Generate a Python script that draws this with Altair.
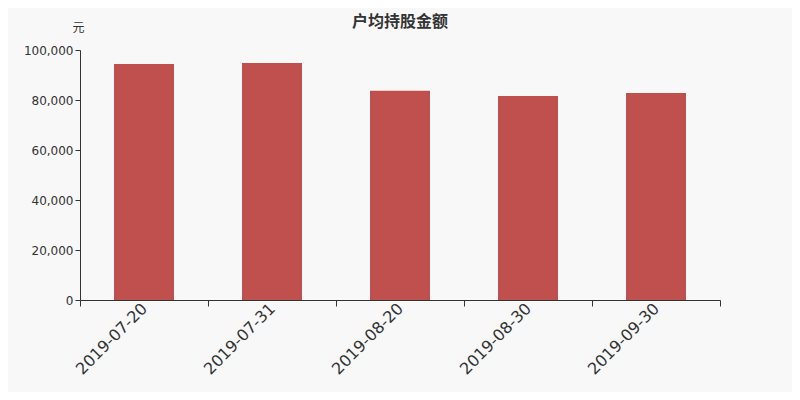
import altair as alt
import pandas as pd

dates = ["2019-07-20", "2019-07-31", "2019-08-20", "2019-08-30", "2019-09-30"]
values = [94400, 94800, 83700, 81600, 82800]

df = pd.DataFrame({"date": dates, "value": values})

chart = alt.Chart(df).mark_bar(color="#c0504d", size=60).encode(
    x=alt.X("date:N", sort=None, title=None,
            scale=alt.Scale(paddingInner=0, paddingOuter=0),
            axis=alt.Axis(labelAngle=-45, labelFontSize=16, labelColor="#333333",
                          domainColor="#333333", tickColor="#333333", tickSize=6,
                          bandPosition=1, tickExtra=True, labelPadding=-6,
                          labelOffset=-5, labelFont="DejaVu Sans")),
    y=alt.Y("value:Q", title="元",
            scale=alt.Scale(domain=[0, 100000], nice=False),
            axis=alt.Axis(values=[0, 20000, 40000, 60000, 80000, 100000],
                          labelExpr="format(datum.value, ',.0f')",
                          grid=False, labelFontSize=12, labelColor="#333333",
                          domainColor="#333333", tickColor="#333333", tickSize=5,
                          labelFont="DejaVu Sans",
                          titleAngle=0, titleX=-2, titleY=-16, titleAlign="center",
                          titleFontWeight="normal", titleFontSize=12, titleColor="#333333",
                          titleFont="Noto Sans CJK SC")),
).properties(
    width=640,
    height=250,
    padding={"left": 72, "top": 42, "right": 72, "bottom": 92},
    autosize=alt.AutoSizeParams(type="none"),
    background="#f8f8f8",
    title=alt.TitleParams("户均持股金额", fontSize=16, font="Noto Sans CJK SC",
                          fontWeight="bold", color="#333333", anchor="middle", offset=-9),
).configure_view(stroke=None)

chart.save("out.html", embed_options={"renderer": "svg", "actions": False})
